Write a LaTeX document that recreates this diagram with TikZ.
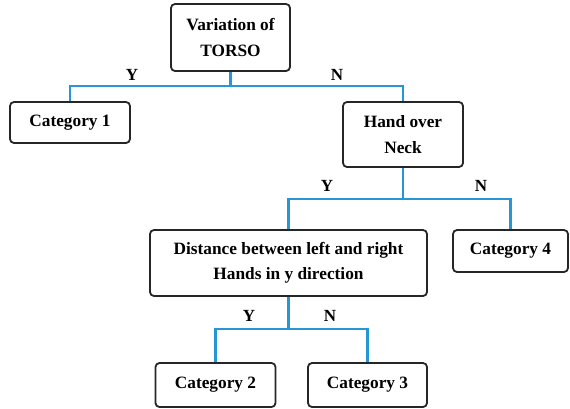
\documentclass[tikz,border=0pt]{standalone}
\usepackage{fontspec}
\setmainfont{Liberation Serif}
\definecolor{linkblue}{RGB}{38,150,212}
\begin{document}
\begin{tikzpicture}[x=1pt,y=-1pt,
  box/.style={draw=black!85, line width=1.8pt, rounded corners=4pt, fill=white,
    align=center, inner sep=0pt, font=\bfseries\fontsize{17.3}{25.5}\selectfont},
  conn/.style={draw=linkblue, line width=2.4pt},
  yn/.style={font=\bfseries\fontsize{17}{18}\selectfont, inner sep=0pt}]
  \useasboundingbox[fill=white] (0,0) rectangle (570,408);

  % decision and leaf boxes
  \node[box, minimum width=119pt, minimum height=67pt] (torso) at (230.5,37.5) {Variation of\\TORSO};
  \node[box, minimum width=120pt, minimum height=41pt] (cat1) at (70,122.5) {Category 1};
  \node[box, minimum width=120pt, minimum height=65pt] (neck) at (403,134.5) {Hand over\\Neck};
  \node[box, minimum width=277pt, minimum height=66pt] (dist) at (288.5,263) {Distance between left and right\\Hands in y direction};
  \node[box, minimum width=115pt, minimum height=42pt] (cat4) at (510.5,251) {Category 4};
  \node[box, minimum width=120pt, minimum height=44pt] (cat2) at (215.5,385) {Category 2};
  \node[box, minimum width=119pt, minimum height=44pt] (cat3) at (367.5,385) {Category 3};

  % branch junctions
  \coordinate (j1) at (230.5,86);
  \coordinate (j2) at (403,199);
  \coordinate (j3) at (288.5,329);

  % connectors
  \draw[conn] (torso.south) -- (j1);
  \draw[conn] (cat1.north) |- (j1) -| (neck.north);
  \draw[conn] (neck.south) -- (j2);
  \draw[conn] (dist.north) |- (j2) -| (cat4.north);
  \draw[conn] (dist.south) -- (j3);
  \draw[conn] (cat2.north) |- (j3) -| (cat3.north);

  % branch labels
  \node[yn] (y1) at (132,75) {Y};
  \node[yn] (n1) at (337,75) {N};
  \node[yn] (y2) at (327,186) {Y};
  \node[yn] (n2) at (481,186) {N};
  \node[yn] (y3) at (249,316) {Y};
  \node[yn] (n3) at (330,316) {N};
\end{tikzpicture}
\end{document}
